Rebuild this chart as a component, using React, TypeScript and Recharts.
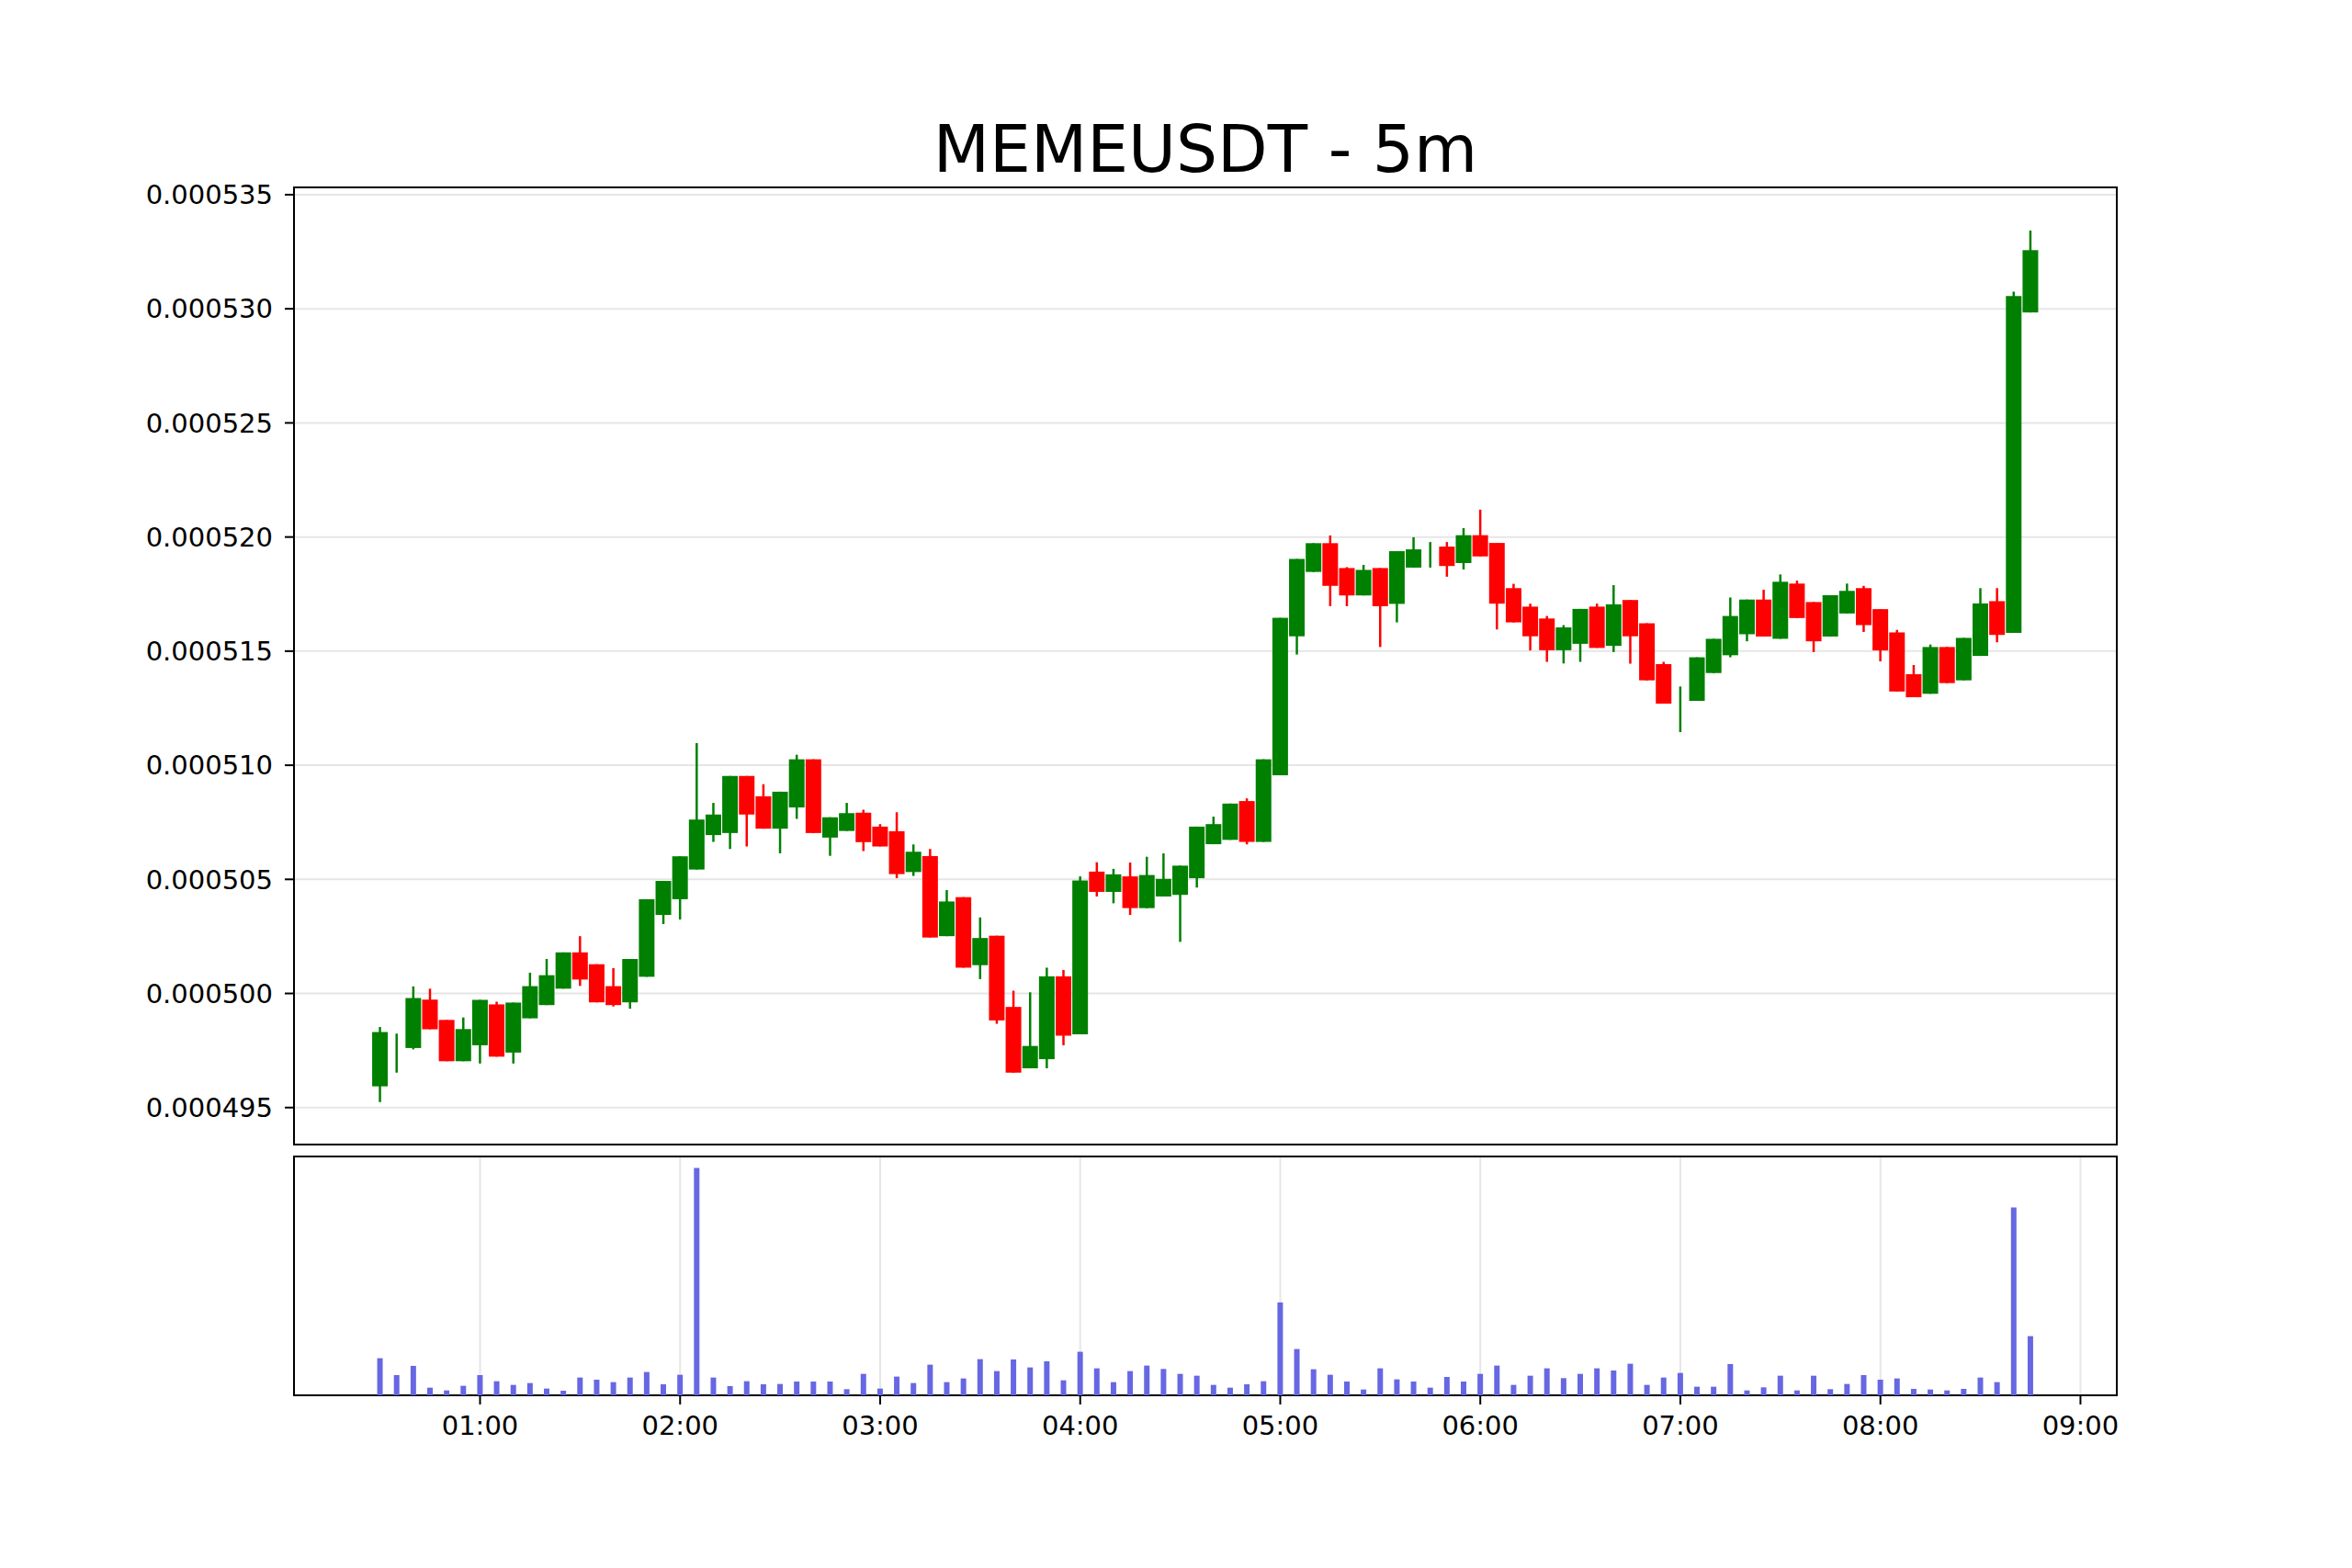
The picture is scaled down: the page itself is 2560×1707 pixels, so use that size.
import React from "react";
import {
  ComposedChart,
  Bar,
  XAxis,
  YAxis,
  CartesianGrid,
  ReferenceArea,
} from "recharts";

// 5m candles starting at 00:30
const START_MINUTE = 30;
const STEP_MINUTES = 5;

const OPEN = [
  0.00049593, 0.0004976, 0.00049761, 0.00049973, 0.00049884, 0.00049703, 0.00049773, 0.00049952, 0.00049741, 0.00049891,
  0.00049949, 0.00050021, 0.0005018, 0.00050128, 0.00050032, 0.00049961, 0.00050073, 0.00050344, 0.00050413, 0.00050543,
  0.00050694, 0.00050703, 0.00050953, 0.00050864, 0.00050722, 0.00050815, 0.00051026, 0.00050683, 0.00050712, 0.00050792,
  0.00050731, 0.00050711, 0.00050532, 0.00050602, 0.00050251, 0.00050422, 0.00050124, 0.00050253, 0.00049941, 0.00049672,
  0.00049712, 0.00050075, 0.00049821, 0.00050534, 0.00050445, 0.00050513, 0.00050374, 0.00050425, 0.00050432, 0.00050505,
  0.00050654, 0.00050673, 0.00050843, 0.00050664, 0.00050956, 0.00051565, 0.00051847, 0.00051973, 0.00051864, 0.00051744,
  0.00051864, 0.00051707, 0.00051866, 0.0005192, 0.00051958, 0.00051886, 0.00052008, 0.00051974, 0.00051776, 0.00051695,
  0.00051643, 0.00051504, 0.00051532, 0.00051695, 0.00051523, 0.00051724, 0.00051622, 0.00051443, 0.0005127, 0.00051282,
  0.00051404, 0.00051482, 0.00051574, 0.00051726, 0.00051554, 0.00051796, 0.00051715, 0.00051564, 0.00051665, 0.00051776,
  0.00051684, 0.00051582, 0.00051399, 0.00051313, 0.00051518, 0.00051372, 0.00051479, 0.00051719, 0.0005158, 0.00052984,
];
const HIGH = [
  0.00049853, 0.00049824, 0.00050031, 0.00050021, 0.00049884, 0.00049895, 0.00049972, 0.00049964, 0.0004996, 0.00050091,
  0.00050151, 0.0005018, 0.00050251, 0.00050128, 0.00050111, 0.00050151, 0.00050413, 0.00050493, 0.00050601, 0.00051097,
  0.00050835, 0.00050953, 0.00050953, 0.00050917, 0.00050884, 0.00051046, 0.00051026, 0.00050772, 0.00050835, 0.00050805,
  0.00050742, 0.00050794, 0.00050653, 0.00050633, 0.00050453, 0.00050422, 0.00050333, 0.00050253, 0.00050012, 0.00050005,
  0.00050113, 0.00050103, 0.00050513, 0.00050575, 0.00050546, 0.00050574, 0.00050599, 0.00050614, 0.0005056, 0.00050731,
  0.00050775, 0.00050832, 0.00050855, 0.00051026, 0.00051646, 0.00051904, 0.00051973, 0.00052007, 0.00051868, 0.00051878,
  0.00051864, 0.00051938, 0.00051999, 0.00051978, 0.00051978, 0.00052039, 0.0005212, 0.00051974, 0.00051795, 0.00051708,
  0.00051654, 0.00051614, 0.00051685, 0.00051708, 0.00051789, 0.00051724, 0.00051622, 0.00051453, 0.00051345, 0.00051473,
  0.00051554, 0.00051735, 0.00051726, 0.00051769, 0.00051836, 0.00051809, 0.00051715, 0.00051745, 0.00051796, 0.00051786,
  0.00051684, 0.00051593, 0.00051439, 0.00051529, 0.00051518, 0.00051558, 0.00051776, 0.00051776, 0.00053075, 0.00053343,
];
const LOW = [
  0.00049524, 0.00049653, 0.00049755, 0.00049843, 0.00049703, 0.00049703, 0.00049693, 0.00049723, 0.00049693, 0.00049891,
  0.00049949, 0.00050021, 0.00050033, 0.00049961, 0.00049943, 0.00049933, 0.00050073, 0.00050304, 0.00050324, 0.00050543,
  0.00050664, 0.00050633, 0.00050644, 0.00050722, 0.00050614, 0.00050765, 0.00050703, 0.00050603, 0.00050712, 0.00050624,
  0.00050644, 0.00050505, 0.00050515, 0.00050245, 0.00050251, 0.00050113, 0.00050063, 0.00049867, 0.00049653, 0.00049672,
  0.00049672, 0.00049773, 0.00049821, 0.00050425, 0.00050395, 0.00050344, 0.00050374, 0.00050425, 0.00050226, 0.00050464,
  0.00050654, 0.00050673, 0.00050653, 0.00050664, 0.00050956, 0.00051485, 0.00051847, 0.00051697, 0.00051697, 0.00051744,
  0.00051518, 0.00051626, 0.00051866, 0.00051866, 0.00051826, 0.00051858, 0.00051915, 0.00051595, 0.00051626, 0.00051503,
  0.00051453, 0.00051446, 0.00051453, 0.00051514, 0.00051496, 0.00051445, 0.00051372, 0.0005127, 0.00051145, 0.00051282,
  0.00051404, 0.00051473, 0.00051543, 0.00051564, 0.00051554, 0.00051645, 0.00051496, 0.00051564, 0.00051665, 0.00051584,
  0.00051455, 0.00051323, 0.00051298, 0.00051313, 0.0005136, 0.00051372, 0.00051479, 0.00051539, 0.0005158, 0.00052984,
];
const CLOSE = [
  0.00049831, 0.0004976, 0.0004998, 0.00049843, 0.00049703, 0.00049844, 0.00049972, 0.00049723, 0.0004996, 0.00050032,
  0.0005008, 0.0005018, 0.00050061, 0.00049961, 0.00049949, 0.00050151, 0.00050413, 0.00050493, 0.00050601, 0.00050762,
  0.00050784, 0.00050953, 0.00050784, 0.00050722, 0.00050884, 0.00051026, 0.00050703, 0.00050772, 0.0005079, 0.00050663,
  0.00050644, 0.00050523, 0.00050621, 0.00050245, 0.00050403, 0.00050113, 0.00050243, 0.00049882, 0.00049653, 0.0004977,
  0.00050075, 0.00049815, 0.00050495, 0.00050445, 0.00050522, 0.00050374, 0.00050519, 0.00050502, 0.0005056, 0.00050731,
  0.00050742, 0.00050832, 0.00050664, 0.00051026, 0.00051646, 0.00051904, 0.00051973, 0.00051786, 0.00051744, 0.00051856,
  0.00051697, 0.00051938, 0.00051946, 0.0005192, 0.00051873, 0.00052008, 0.00051915, 0.00051708, 0.00051626, 0.00051565,
  0.00051504, 0.00051604, 0.00051685, 0.00051514, 0.00051705, 0.00051565, 0.00051372, 0.0005127, 0.0005127, 0.00051473,
  0.00051554, 0.00051654, 0.00051726, 0.00051564, 0.00051804, 0.00051645, 0.00051543, 0.00051745, 0.00051764, 0.00051614,
  0.00051503, 0.00051323, 0.00051298, 0.00051518, 0.0005136, 0.00051558, 0.00051709, 0.00051571, 0.00053056, 0.00053257,
];
// volume in thousands (axis is unlabelled)
const VOLUME = [
  121, 66, 96, 25, 16, 31, 66, 46, 34, 40,
  22, 15, 58, 51, 43, 58, 76, 36, 67, 742,
  58, 30, 46, 36, 37, 45, 45, 45, 20, 70,
  22, 61, 40, 100, 43, 55, 118, 79, 117, 91,
  111, 49, 142, 88, 43, 79, 97, 86, 70, 64,
  34, 25, 36, 46, 303, 151, 85, 67, 45, 19,
  88, 52, 45, 25, 60, 45, 70, 97, 34, 64,
  88, 56, 70, 88, 81, 103, 34, 58, 73, 28,
  28, 102, 16, 26, 64, 16, 64, 20, 37, 66,
  51, 55, 21, 19, 16, 21, 58, 43, 613, 193,
];

const PRICE_TICKS = [
  0.000495, 0.0005, 0.000505, 0.00051, 0.000515, 0.00052, 0.000525, 0.00053, 0.000535,
];
const HOUR_TICKS = [60, 120, 180, 240, 300, 360, 420, 480, 540];

const X_DOMAIN: [number, number] = [4.2, 550.9];
const Y_DOMAIN: [number, number] = [0.00049338, 0.00053532];
const VOL_TOP = Math.max(...VOLUME) * 1.05;

const data = OPEN.map((open, i) => ({
  t: START_MINUTE + i * STEP_MINUTES,
  open,
  high: HIGH[i],
  low: LOW[i],
  close: CLOSE[i],
  volume: VOLUME[i],
}));

const FONT = "DejaVu Sans, sans-serif";
const GRID = "#e6e6e6";
const UP = "#008000";
const DOWN = "#ff0000";
const BODY_W = 17;

function fmtTime(m: number) {
  const h = Math.floor(m / 60);
  const mm = m % 60;
  return `${String(h).padStart(2, "0")}:${String(mm).padStart(2, "0")}`;
}

function Candle(props: any) {
  const { x, y, width, height } = props;
  const p = props.payload ?? props;
  const { open, high, low, close } = p;
  const top = Math.min(y, y + height);
  const h = Math.abs(height);
  const span = high - low || 1;
  const py = (v: number) => top + ((high - v) / span) * h;
  const color = close >= open ? UP : DOWN;
  const cx = x + width / 2;
  const bTop = py(Math.max(open, close));
  const bBot = py(Math.min(open, close));
  return (
    <g>
      <line x1={cx} x2={cx} y1={top} y2={top + h} stroke={color} strokeWidth={2.5} />
      <rect x={cx - BODY_W / 2} y={bTop} width={BODY_W} height={Math.max(bBot - bTop, 0)} fill={color} />
    </g>
  );
}

const tickStyle = { fontSize: 29, fill: "#000", fontFamily: FONT };

export default function App() {
  return (
    <div style={{ position: "absolute", left: 0, top: 0, width: 2560, height: 1707, background: "#fff" }}>
      <div
        style={{
          position: "absolute",
          left: 320,
          width: 1984,
          top: 127,
          textAlign: "center",
          fontFamily: FONT,
          fontSize: 71,
          lineHeight: "71px",
          color: "#000",
        }}
      >
        MEMEUSDT - 5m
      </div>

      <div style={{ position: "absolute", left: 0, top: 0 }}>
        <ComposedChart
          width={2560}
          height={1260}
          data={data}
          margin={{ top: 204, right: 256, bottom: 13, left: 0 }}
        >
          <CartesianGrid stroke={GRID} strokeWidth={2} />
          <XAxis
            type="number"
            dataKey="t"
            domain={X_DOMAIN}
            allowDataOverflow
            ticks={HOUR_TICKS}
            tick={false}
            tickLine={false}
            axisLine={false}
            height={1}
          />
          <YAxis
            domain={Y_DOMAIN}
            allowDataOverflow
            ticks={PRICE_TICKS}
            tickFormatter={(v: number) => v.toFixed(6)}
            width={320}
            tick={tickStyle}
            tickSize={10}
            tickMargin={13}
            tickLine={{ stroke: "#000", strokeWidth: 2 }}
            axisLine={false}
          />
          <Bar
            dataKey={(d: any) => [d.low, d.high]}
            shape={Candle}
            barSize={18}
            isAnimationActive={false}
          />
          <ReferenceArea
            x1={X_DOMAIN[0]}
            x2={X_DOMAIN[1]}
            y1={Y_DOMAIN[0]}
            y2={Y_DOMAIN[1]}
            fill="none"
            stroke="#000"
            strokeWidth={2}
          />
        </ComposedChart>
      </div>

      <div style={{ position: "absolute", left: 0, top: 1250 }}>
        <ComposedChart
          width={2560}
          height={457}
          data={data}
          margin={{ top: 9, right: 256, bottom: 118, left: 320 }}
        >
          <CartesianGrid stroke={GRID} strokeWidth={2} horizontal={false} />
          <XAxis
            type="number"
            dataKey="t"
            domain={X_DOMAIN}
            allowDataOverflow
            ticks={HOUR_TICKS}
            tickFormatter={fmtTime}
            tick={tickStyle}
            tickSize={10}
            tickMargin={12}
            tickLine={{ stroke: "#000", strokeWidth: 2 }}
            axisLine={false}
            height={70}
          />
          <YAxis hide domain={[0, VOL_TOP]} />
          <Bar dataKey="volume" fill="#6767e3" barSize={6} isAnimationActive={false} />
          <ReferenceArea
            x1={X_DOMAIN[0]}
            x2={X_DOMAIN[1]}
            y1={0}
            y2={VOL_TOP}
            fill="none"
            stroke="#000"
            strokeWidth={2}
          />
        </ComposedChart>
      </div>
    </div>
  );
}
